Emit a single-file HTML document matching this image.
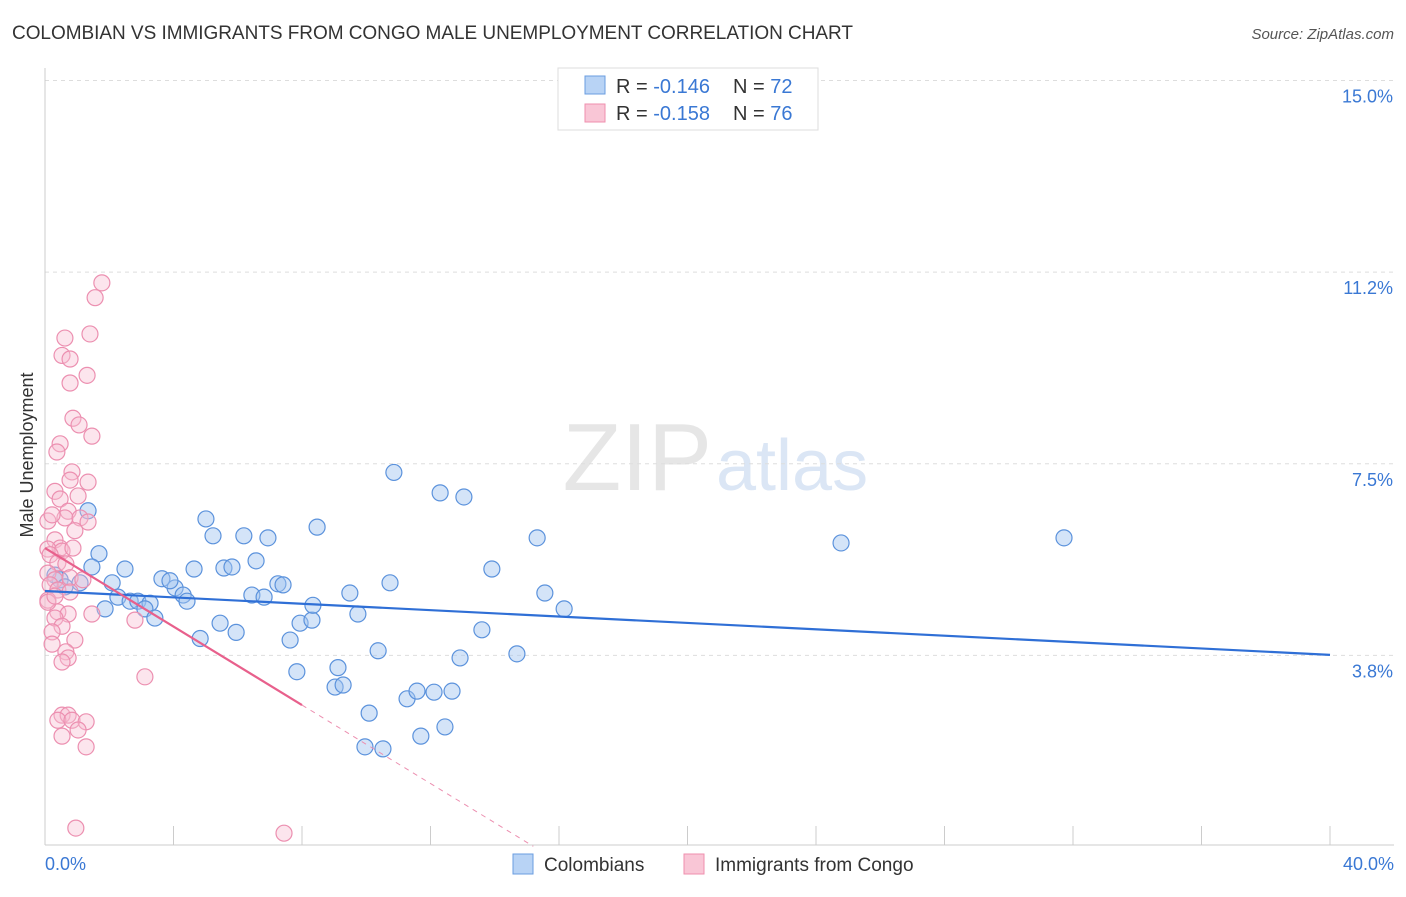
<!DOCTYPE html>
<html><head><meta charset="utf-8"><style>
body{margin:0;background:#fff;font-family:"Liberation Sans",sans-serif;}
svg text{font-family:"Liberation Sans",sans-serif;}
</style></head><body>
<svg id="chart" width="1406" height="892" xmlns="http://www.w3.org/2000/svg">
<text x="12" y="39" font-size="19" fill="#333" textLength="841">COLOMBIAN VS IMMIGRANTS FROM CONGO MALE UNEMPLOYMENT CORRELATION CHART</text>
<text x="1394" y="39" font-size="15" fill="#555" font-style="italic" text-anchor="end">Source: ZipAtlas.com</text>
<text x="712" y="490" font-size="96" fill="#e6e6e6" text-anchor="end" font-family="Liberation Serif">ZIP</text>
<text x="716" y="490" font-size="72" fill="#dbe6f5">atlas</text>
<g id="grid"></g><g id="axes"></g><g id="pts"></g><g id="lines"></g>
<text x="33" y="455" font-size="18" fill="#333" text-anchor="middle" transform="rotate(-90 33 455)">Male Unemployment</text>
<g>
<rect x="558" y="68" width="260" height="62" fill="#fff" stroke="#ddd"/>
<rect x="585" y="76" width="20" height="18" fill="#b8d3f5" stroke="#6a9de0"/>
<text x="616" y="93" font-size="20" fill="#333">R = <tspan fill="#3a78d4">-0.146</tspan></text>
<text x="733" y="93" font-size="20" fill="#333">N = <tspan fill="#3a78d4">72</tspan></text>
<rect x="585" y="104" width="20" height="18" fill="#f9c6d6" stroke="#ef8fae"/>
<text x="616" y="120" font-size="20" fill="#333">R = <tspan fill="#3a78d4">-0.158</tspan></text>
<text x="733" y="120" font-size="20" fill="#333">N = <tspan fill="#3a78d4">76</tspan></text>
</g>
<g>
<rect x="513" y="854" width="20" height="20" fill="#b8d3f5" stroke="#6a9de0"/>
<text x="544" y="871" font-size="19" fill="#333">Colombians</text>
<rect x="684" y="854" width="20" height="20" fill="#f9c6d6" stroke="#ef8fae"/>
<text x="715" y="871" font-size="19" fill="#333">Immigrants from Congo</text>
</g>
</svg>
<script>
const yTicks=[3.8,7.5,11.2,15.0];
const yTickVals=[3.75,7.5,11.25,15];
const xLabels=["0.0%","40.0%"];
const blueX=[1.34,1.68,1.46,2.49,2.09,0.47,0.31,0.62,1.09,1.87,2.27,2.65,2.89,3.27,3.11,3.42,3.64,4.05,3.89,4.30,4.42,4.64,4.83,5.01,5.23,5.57,5.82,5.45,5.95,6.19,6.44,6.57,6.82,6.94,7.25,7.41,7.63,7.94,8.31,8.34,7.84,8.47,9.12,9.03,9.28,9.49,9.74,10.09,9.96,10.37,10.52,10.74,10.86,11.27,11.58,11.70,12.11,12.30,12.45,12.67,12.92,13.04,13.60,13.91,14.69,15.32,15.56,16.16,24.78,31.72];
const blueY=[6.58,5.74,5.48,5.44,5.17,5.23,5.32,5.09,5.17,4.66,4.89,4.81,4.81,4.77,4.66,4.48,5.25,5.07,5.21,4.93,4.81,5.44,4.08,6.42,6.09,5.46,5.48,4.38,4.20,6.09,4.93,5.60,4.89,6.05,5.15,5.13,4.05,4.38,4.44,4.73,3.43,6.26,3.51,3.13,3.17,4.97,4.56,2.62,1.96,3.84,1.92,5.17,7.33,2.90,3.05,2.17,3.03,6.93,2.35,3.05,3.70,6.85,4.25,5.44,3.78,6.05,4.97,4.66,5.95,6.05];
const pinkX=[1.77,1.56,1.40,0.62,0.53,0.78,1.31,0.78,0.87,1.06,1.46,0.47,0.37,0.84,1.34,0.78,0.31,1.03,0.47,0.72,0.62,1.09,1.34,0.09,0.22,0.93,0.31,0.47,0.09,0.53,0.87,0.16,0.40,0.65,0.09,0.31,0.16,0.78,0.40,0.78,0.09,0.40,0.72,1.46,0.31,0.53,0.22,0.93,0.22,0.65,0.72,0.53,2.80,3.11,0.53,0.72,0.40,0.84,1.28,1.03,0.53,1.28,0.96,7.44,0.09,0.31,1.18];
const pinkY=[11.04,10.75,10.04,9.96,9.62,9.55,9.23,9.08,8.39,8.26,8.04,7.89,7.73,7.34,7.14,7.18,6.96,6.87,6.81,6.57,6.44,6.44,6.36,6.38,6.50,6.19,6.01,5.85,5.83,5.79,5.85,5.72,5.56,5.54,5.36,5.23,5.13,5.27,5.03,4.99,4.83,4.60,4.56,4.56,4.48,4.32,4.21,4.05,3.97,3.82,3.70,3.62,4.44,3.33,2.58,2.58,2.48,2.48,2.45,2.29,2.17,1.96,0.37,0.27,4.79,4.91,5.23];
const blueLine=[5.01,3.76];
const pinkLine=[5.85,-0.384];
const X=v=>45+v/40*1285, Y=v=>847-v*51.1;
const NS="http://www.w3.org/2000/svg";
function mk(p,t,a){const e=document.createElementNS(NS,t);for(const k in a)e.setAttribute(k,a[k]);document.getElementById(p).appendChild(e);return e;}
yTickVals.forEach((v,i)=>{
 const g=mk('grid','line',{x1:45,x2:1394,y1:Y(v),y2:Y(v),stroke:'#ddd','stroke-dasharray':'4,4'});
 
 
 const t=mk('grid','text',{x:1393,y:Y(v)+22,'font-size':18,fill:'#3a78d4','text-anchor':'end'});
 t.textContent=yTicks[i].toFixed(1)+'%';
 
 
});
const ax=mk('axes','line',{x1:45,x2:45,y1:68,y2:845,stroke:'#ccc'});


const bx=mk('axes','line',{x1:45,x2:1394,y1:845,y2:845,stroke:'#ccc'});


for(let i=0;i<=10;i++){const l=mk('axes','line',{x1:X(i*4),x2:X(i*4),y1:826,y2:845,stroke:'#ccc'});
 
 }
[[0,'start',45],[40,'end',1394]].forEach((d,i)=>{const t=mk('axes','text',{x:d[2],y:870,'font-size':18,fill:'#3a78d4','text-anchor':d[1]});t.textContent=xLabels[i];
 
 });
blueX.forEach((v,i)=>{const c=mk('pts','circle',{cx:X(v),cy:Y(blueY[i]),r:8,fill:'rgba(160,195,240,0.45)',stroke:'#5b92dc','stroke-width':1.2});
 
 });
pinkX.forEach((v,i)=>{const c=mk('pts','circle',{cx:X(v),cy:Y(pinkY[i]),r:8,fill:'rgba(248,190,210,0.4)',stroke:'#ec8fb0','stroke-width':1.2});
 
 });
const bl=mk('lines','line',{x1:X(0),y1:Y(blueLine[0]),x2:X(40),y2:Y(blueLine[1]),stroke:'#2f6fd6','stroke-width':2.2});


const pl=mk('lines','line',{x1:X(0),y1:Y(pinkLine[0]),x2:X(8),y2:Y(pinkLine[0]+pinkLine[1]*8),stroke:'#e8608c','stroke-width':2.2});


const pd=mk('lines','line',{x1:X(8),y1:Y(pinkLine[0]+pinkLine[1]*8),x2:X(15.2),y2:Y(pinkLine[0]+pinkLine[1]*15.2),stroke:'#ec8fb0','stroke-width':1,'stroke-dasharray':'5,5'});


</script>
</body></html>
